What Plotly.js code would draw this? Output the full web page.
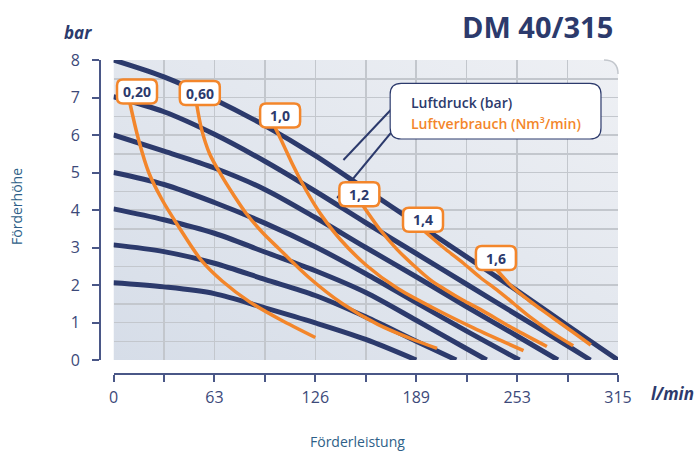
<!DOCTYPE html>
<html>
<head>
<meta charset="utf-8">
<script src="https://cdn.plot.ly/plotly-3.0.1.min.js"></script>
<style>
  html, body { margin: 0; padding: 0; background: #ffffff; }
  #chart { width: 699px; height: 454px; }
</style>
</head>
<body>
<div id="chart"></div>
<script>
// ---------------- DATA ----------------
// x axis (Förderleistung, l/min)
const xTickVals = [0, 31.5, 63, 94.5, 126, 157.5, 189, 220.5, 252, 283.5, 315];
const xTickText = ['0', '', '63', '', '126', '', '189', '', '253', '', '315'];
// y axis (Förderhöhe, bar)
const yTickVals = [0, 1, 2, 3, 4, 5, 6, 7, 8];

// Luftdruck (bar) curves
const p8_x = [0, 31.5, 63, 94.5, 126, 157.5, 189, 220.5, 252, 283.5, 315];
const p8_y = [8.0, 7.55, 6.95, 6.25, 5.45, 4.55, 3.65, 2.75, 1.85, 0.92, 0];
const p7_x = [0, 31.5, 63, 94.5, 126, 157.5, 189, 220.5, 252, 283.5, 297.8];
const p7_y = [7.02, 6.62, 6.02, 5.3, 4.5, 3.66, 2.84, 2.02, 1.2, 0.38, 0];
const p6_x = [0, 31.5, 63, 94.5, 126, 157.5, 189, 220.5, 252, 277.5];
const p6_y = [6.0, 5.57, 5.12, 4.55, 3.8, 3.0, 2.22, 1.42, 0.64, 0];
const p5_x = [0, 31.5, 63, 94.5, 126, 157.5, 189, 220.5, 253.5];
const p5_y = [5.0, 4.68, 4.2, 3.65, 3.02, 2.3, 1.53, 0.77, 0];
const p4_x = [0, 31.5, 63, 94.5, 126, 157.5, 189, 220.5, 233];
const p4_y = [4.03, 3.74, 3.38, 2.88, 2.38, 1.8, 1.06, 0.3, 0];
const p3_x = [0, 31.5, 63, 94.5, 126, 157.5, 189, 214];
const p3_y = [3.07, 2.89, 2.58, 2.15, 1.72, 1.15, 0.5, 0];
const p2_x = [0, 31.5, 63, 94.5, 126, 157.5, 189];
const p2_y = [2.06, 1.95, 1.77, 1.39, 0.99, 0.55, 0];

// Luftverbrauch (Nm³/min) curves
const c020_x = [10.3, 15.5, 22, 30, 40, 55, 68, 85, 104, 126];
const c020_y = [6.84, 5.9, 5.0, 4.3, 3.6, 2.65, 2.1, 1.55, 1.08, 0.6];
const c060_x = [52, 55, 60, 67, 75, 83, 93, 103, 122, 143, 165, 185, 202];
const c060_y = [6.8, 6.15, 5.5, 4.95, 4.4, 3.9, 3.4, 2.98, 2.2, 1.5, 0.95, 0.58, 0.31];
const c10_x = [100.9, 106, 112, 118, 124, 130, 141.5, 158, 177, 200, 225, 256];
const c10_y = [6.2, 5.75, 5.2, 4.7, 4.25, 3.85, 3.22, 2.52, 1.92, 1.38, 0.85, 0.25];
const c12_x = [156, 166, 177, 188, 198, 207, 218, 229, 250, 270.6];
const c12_y = [4.1, 3.5, 2.95, 2.5, 2.13, 1.88, 1.6, 1.35, 0.83, 0.36];
const c14_x = [194.5, 206, 218.5, 229, 239.4, 250, 260, 273, 287];
const c14_y = [3.42, 3.0, 2.58, 2.2, 1.87, 1.5, 1.15, 0.75, 0.38];
const c16_x = [239.4, 249, 259, 267, 275.8, 287, 298];
const c16_y = [2.4, 1.95, 1.6, 1.35, 1.08, 0.74, 0.4];

const pressureLabels = ['8', '7', '6', '5', '4', '3', '2'];
const airLabels = ['0,20', '0,60', '1,0', '1,2', '1,4', '1,6'];

// ---------------- STYLE ----------------
const NAVY = '#2c3a6c';
const AXIS = '#4a5787';
const ORANGE = '#f3862b';
const GRID = '#c3c7cd';
const TEAL = '#2e5f88';
const FONT = '"Open Sans", "Noto Sans", sans-serif';
const labelNudgePx = [7, 3, 5, -4, -2, -1]; // horizontal nudge of the value boxes

const pressure = [
  [p8_x, p8_y], [p7_x, p7_y], [p6_x, p6_y], [p5_x, p5_y],
  [p4_x, p4_y], [p3_x, p3_y], [p2_x, p2_y]
];
const air = [
  [c020_x, c020_y], [c060_x, c060_y], [c10_x, c10_y],
  [c12_x, c12_y], [c14_x, c14_y], [c16_x, c16_y]
];

const traces = [];
pressure.forEach((d, i) => {
  traces.push({
    type: 'scatter', mode: 'lines', x: d[0], y: d[1],
    name: 'Luftdruck ' + pressureLabels[i] + ' bar',
    line: { color: NAVY, width: 5, shape: 'spline', smoothing: 0.9 },
    hoverinfo: 'skip', showlegend: false
  });
});
air.forEach((d, i) => {
  traces.push({
    type: 'scatter', mode: 'lines', x: d[0], y: d[1],
    name: 'Luftverbrauch ' + airLabels[i],
    line: { color: ORANGE, width: 3.5, shape: 'spline', smoothing: 0.9 },
    hoverinfo: 'skip', showlegend: false
  });
});

// ---------------- LAYOUT GEOMETRY (pixel -> paper) ----------------
const L = 100, R = 617.7, T = 60, B = 374;
const W = R - L, H = B - T;
const X = px => (px - L) / W;
const Y = py => (B - py) / H;

function roundRect(x0, y0, x1, y1, r) {
  return 'M ' + X(x0 + r) + ',' + Y(y0) +
    ' L ' + X(x1 - r) + ',' + Y(y0) +
    ' Q ' + X(x1) + ',' + Y(y0) + ' ' + X(x1) + ',' + Y(y0 + r) +
    ' L ' + X(x1) + ',' + Y(y1 - r) +
    ' Q ' + X(x1) + ',' + Y(y1) + ' ' + X(x1 - r) + ',' + Y(y1) +
    ' L ' + X(x0 + r) + ',' + Y(y1) +
    ' Q ' + X(x0) + ',' + Y(y1) + ' ' + X(x0) + ',' + Y(y1 - r) +
    ' L ' + X(x0) + ',' + Y(y0 + r) +
    ' Q ' + X(x0) + ',' + Y(y0) + ' ' + X(x0 + r) + ',' + Y(y0) + ' Z';
}

// gradient background as svg image
const bgSvg = "<svg xmlns='http://www.w3.org/2000/svg' width='504' height='300' viewBox='0 0 504 300'>" +
  "<defs><linearGradient id='g' x1='0' y1='1' x2='1' y2='0'>" +
  "<stop offset='0' stop-color='#d6dde8'/><stop offset='1' stop-color='#eef0f4'/>" +
  "</linearGradient></defs>" +
  "<path d='M0,0 H490 Q504,0 504,14 V300 H0 Z' fill='url(#g)'/></svg>";
const bgSrc = 'data:image/svg+xml;base64,' + btoa(bgSvg);

const shapes = [];
const annotations = [];

// rounded corner cover (top-right of plot area)
shapes.push({
  type: 'path', xref: 'paper', yref: 'paper', layer: 'between',
  path: 'M ' + X(603.7) + ',' + Y(58) + ' L ' + X(620) + ',' + Y(58) + ' L ' + X(620) + ',' + Y(74) +
        ' L ' + X(617.7) + ',' + Y(74) + ' Q ' + X(617.7) + ',' + Y(60) + ' ' + X(603.7) + ',' + Y(60) + ' Z',
  fillcolor: '#ffffff', line: { width: 0 }
});
shapes.push({
  type: 'path', xref: 'paper', yref: 'paper', layer: 'between',
  path: 'M ' + X(603.7) + ',' + Y(60) + ' Q ' + X(617.7) + ',' + Y(60) + ' ' + X(617.7) + ',' + Y(74),
  line: { color: GRID, width: 1.5 }
});

// legend leader lines
shapes.push({ type: 'line', xref: 'paper', yref: 'paper', x0: X(398.3), y0: Y(101.7), x1: X(343.3), y1: Y(160),
  line: { color: NAVY, width: 2 } });
shapes.push({ type: 'line', xref: 'paper', yref: 'paper', x0: X(400), y0: Y(121.7), x1: X(337), y1: Y(198),
  line: { color: NAVY, width: 2 } });
// legend box
shapes.push({ type: 'path', xref: 'paper', yref: 'paper', path: roundRect(390, 83.3, 600.7, 139, 11),
  fillcolor: '#ffffff', line: { color: NAVY, width: 1.2 } });
annotations.push({ xref: 'paper', yref: 'paper', x: X(409), y: Y(102), xanchor: 'left', yanchor: 'middle',
  text: 'Luftdruck (bar)', showarrow: false, font: { family: FONT, size: 14, color: NAVY, weight: 600 } });
annotations.push({ xref: 'paper', yref: 'paper', x: X(409), y: Y(123.5), xanchor: 'left', yanchor: 'middle',
  text: 'Luftverbrauch (Nm³/min)', showarrow: false, font: { family: FONT, size: 14, color: ORANGE, weight: 600 } });

// air consumption labels at the start of each orange curve
const bw = 20, bh = 24, br = 6;
air.forEach((d, i) => {
  const n = labelNudgePx[i];
  const l = -bw + n, r = bw + n;
  const boxPath = 'M ' + (l + br) + ',0 L ' + (r - br) + ',0 Q ' + r + ',0 ' + r + ',' + br +
    ' L ' + r + ',' + (bh - br) + ' Q ' + r + ',' + bh + ' ' + (r - br) + ',' + bh +
    ' L ' + (l + br) + ',' + bh + ' Q ' + l + ',' + bh + ' ' + l + ',' + (bh - br) +
    ' L ' + l + ',' + br + ' Q ' + l + ',0 ' + (l + br) + ',0 Z';
  shapes.push({
    type: 'path', xref: 'x', yref: 'y', xsizemode: 'pixel', ysizemode: 'pixel',
    xanchor: d[0][0], yanchor: d[1][0], path: boxPath,
    fillcolor: '#ffffff', line: { color: ORANGE, width: 2.5 }, layer: 'above'
  });
  annotations.push({
    xref: 'x', yref: 'y', x: d[0][0], y: d[1][0], xshift: n, yshift: 12, xanchor: 'center', yanchor: 'middle',
    text: '<b>' + airLabels[i] + '</b>', showarrow: false,
    font: { family: FONT, size: 14, color: NAVY }
  });
});

// titles / units
annotations.push({ xref: 'paper', yref: 'paper', x: X(615), y: Y(27), xanchor: 'right', yanchor: 'middle',
  text: '<b>DM 40/315</b>', showarrow: false, font: { family: FONT, size: 29, color: NAVY } });
annotations.push({ xref: 'paper', yref: 'paper', x: X(78), y: Y(32), xanchor: 'center', yanchor: 'middle',
  text: '<b><i>bar</i></b>', showarrow: false, font: { family: FONT, size: 17, color: NAVY } });
annotations.push({ xref: 'paper', yref: 'paper', x: X(672.5), y: Y(393), xanchor: 'center', yanchor: 'middle',
  text: '<b><i>l/min</i></b>', showarrow: false, font: { family: FONT, size: 17, color: NAVY } });
annotations.push({ xref: 'paper', yref: 'paper', x: X(357), y: Y(441), xanchor: 'center', yanchor: 'middle',
  text: 'Förderleistung', showarrow: false, font: { family: FONT, size: 14, color: TEAL } });
annotations.push({ xref: 'paper', yref: 'paper', x: X(16), y: Y(206), xanchor: 'center', yanchor: 'middle',
  text: 'Förderhöhe', textangle: -90, showarrow: false, font: { family: FONT, size: 14, color: TEAL } });

const layout = {
  width: 699, height: 454,
  margin: { l: L, r: 699 - R, t: T, b: 454 - B, pad: 0 },
  paper_bgcolor: '#ffffff',
  plot_bgcolor: 'rgba(0,0,0,0)',
  showlegend: false,
  font: { family: FONT, color: NAVY },
  xaxis: {
    domain: [X(113.5), 1], range: [0, 315], anchor: 'free', position: 0,
    tickmode: 'array', tickvals: xTickVals, ticktext: xTickText,
    ticks: 'outside', ticklen: 7, tickwidth: 2, tickcolor: AXIS,
    showline: true, linecolor: AXIS, linewidth: 2,
    showgrid: true, gridcolor: GRID, gridwidth: 1.5, zeroline: false,
    tickfont: { family: FONT, size: 16, color: '#3c4979' },
    ticklabelstandoff: 2, fixedrange: true
  },
  yaxis: {
    domain: [Y(360), 1], range: [0, 8], anchor: 'free', position: 0,
    tickmode: 'array', tickvals: yTickVals,
    ticks: 'outside', ticklen: 7, tickwidth: 2, tickcolor: AXIS,
    showline: true, linecolor: AXIS, linewidth: 2,
    showgrid: true, gridcolor: GRID, gridwidth: 1.5, zeroline: false,
    minor: { dtick: 0.5, tick0: 0, showgrid: true, gridcolor: GRID, gridwidth: 1.5, ticks: '' },
    tickfont: { family: FONT, size: 16, color: '#3c4979' },
    ticklabelstandoff: 9, fixedrange: true
  },
  images: [{
    source: bgSrc, xref: 'paper', yref: 'paper',
    x: X(113.5), y: Y(60), sizex: X(617.7) - X(113.5), sizey: Y(60) - Y(360),
    xanchor: 'left', yanchor: 'top', sizing: 'stretch', layer: 'below'
  }],
  shapes: shapes,
  annotations: annotations
};

Plotly.newPlot('chart', traces, layout, { displayModeBar: false, staticPlot: true });
</script>
</body>
</html>
